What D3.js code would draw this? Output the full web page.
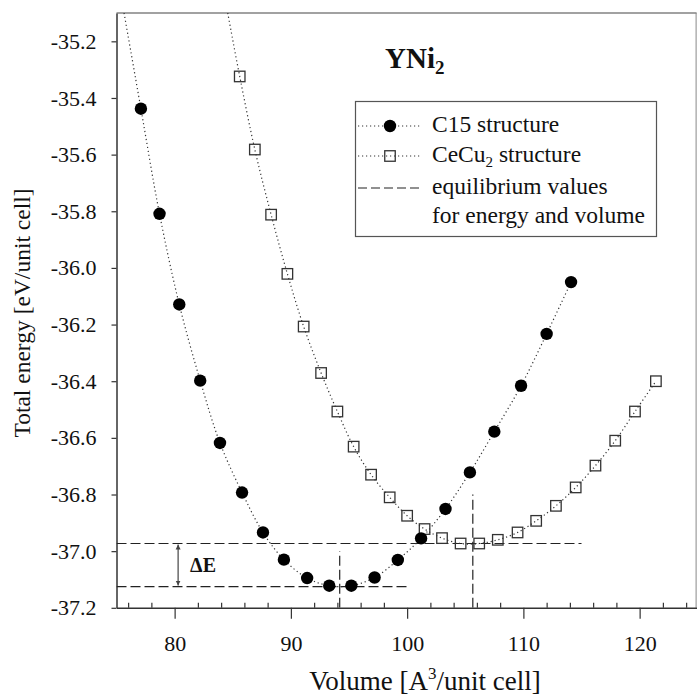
<!DOCTYPE html>
<html>
<head>
<meta charset="utf-8">
<script src="https://cdn.jsdelivr.net/npm/d3@7"></script>
<style>
  body { margin: 0; background: #fff; }
  svg { display: block; }
</style>
</head>
<body>
<div id="chart"></div>
<script>
// C15 structure (filled circles)
const volC15 = [77.1, 78.7, 80.4, 82.2, 83.9, 85.8, 87.6, 89.4, 91.4, 93.3,
                95.2, 97.2, 99.2, 101.2, 103.3, 105.4, 107.5, 109.8, 112.0, 114.1];
const eC15 = [-35.438, -35.809, -36.129, -36.398, -36.618, -36.793, -36.934, -37.030, -37.095, -37.122,
              -37.122, -37.093, -37.031, -36.955, -36.851, -36.722, -36.578, -36.416, -36.233, -36.050];

// CeCu2 structure (open squares)
const volCe = [85.6, 86.9, 88.3, 89.7, 91.1, 92.6, 94.0, 95.4, 96.9, 98.5, 100.0, 101.5,
               103.0, 104.6, 106.2, 107.8, 109.5, 111.1, 112.8, 114.5, 116.2, 117.9, 119.6, 121.4];
const eCe = [-35.324, -35.582, -35.812, -36.021, -36.207, -36.371, -36.507, -36.631, -36.730, -36.810, -36.875, -36.922,
             -36.954, -36.973, -36.973, -36.960, -36.934, -36.893, -36.840, -36.775, -36.698, -36.610, -36.507, -36.400];

// where the fitted dotted curves leave the top of the frame
const fitStartC15 = [75.65, -35.1];
const fitStartCe = [84.57, -35.1];

// equilibrium values: [V0, E0, end of horizontal line, top of vertical line]
const eqC15 = [94.2, -37.125, 100, -37.0];
const eqCe = [105.65, -36.973, 115, -36.8];
const arrowV = 80.3;

const xTicks = [80, 90, 100, 110, 120];
const xMinor = [76, 78, 82, 84, 86, 88, 92, 94, 96, 98, 102, 104, 106, 108, 112, 114, 116, 118, 122, 124];
const yTicks = [-35.2, -35.4, -35.6, -35.8, -36.0, -36.2, -36.4, -36.6, -36.8, -37.0, -37.2];

const FONT = '"Liberation Serif", "Times New Roman", Times, "DejaVu Serif", serif';
const W = 697, H = 700;
const svg = d3.select("#chart").append("svg").attr("width", W).attr("height", H)
  .attr("font-family", FONT);

const x = d3.scaleLinear().domain([75, 124.9]).range([116.5, 696.6]);
const y = d3.scaleLinear().domain([-37.2, -35.1]).range([607.8, 13]);

svg.append("defs").append("clipPath").attr("id", "clip")
  .append("rect")
  .attr("x", x(75)).attr("y", y(-35.1))
  .attr("width", x(124.9) - x(75)).attr("height", y(-37.2) - y(-35.1));

svg.select("defs").append("marker")
  .attr("id", "ah").attr("viewBox", "0 0 10 10")
  .attr("refX", 10).attr("refY", 5)
  .attr("markerWidth", 5).attr("markerHeight", 9)
  .attr("markerUnits", "userSpaceOnUse")
  .attr("orient", "auto-start-reverse")
  .append("path").attr("d", "M0,0 L10,5 L0,10 Z").attr("fill", "#444");

// frame (top and right)
svg.append("line").attr("x1", x(75)).attr("x2", x(124.9)).attr("y1", y(-35.1)).attr("y2", y(-35.1))
  .attr("stroke", "#444").attr("stroke-width", 1.2);
svg.append("line").attr("x1", x(124.9) - 0.5).attr("x2", x(124.9) - 0.5).attr("y1", y(-35.1)).attr("y2", y(-37.2))
  .attr("stroke", "#888").attr("stroke-width", 1);

// axes
svg.append("g").attr("transform", `translate(0,${y(-37.2)})`)
  .call(d3.axisBottom(x).tickValues(xTicks).tickSize(11).tickSizeOuter(0).tickPadding(17).tickFormat(d => d));
svg.append("g").attr("transform", `translate(0,${y(-37.2)})`)
  .call(d3.axisBottom(x).tickValues(xMinor).tickSize(-5).tickSizeOuter(0).tickFormat(""))
  .select(".domain").remove();
svg.append("g").attr("transform", `translate(${x(75)},0)`)
  .call(d3.axisLeft(y).tickValues(yTicks).tickSize(5).tickSizeOuter(0).tickPadding(15).tickFormat(d => d.toFixed(1)));

svg.selectAll("g").attr("font-family", FONT);
svg.selectAll(".tick text").attr("font-size", 22).attr("fill", "#111");
svg.selectAll(".domain").attr("stroke", "#333").attr("stroke-width", 1.5);
svg.selectAll(".tick line").attr("stroke", "#333").attr("stroke-width", 1.2);

// axis titles
svg.append("text").attr("x", 425).attr("y", 690).attr("text-anchor", "middle")
  .attr("font-size", 27).attr("fill", "#111")
  .html('Volume [A<tspan dy="-11" font-size="17">3</tspan><tspan dy="11">/unit cell]</tspan>');
svg.append("text").attr("transform", "translate(30,313) rotate(-90)").attr("text-anchor", "middle")
  .attr("font-size", 23.5).attr("fill", "#111").text("Total energy [eV/unit cell]");

const plot = svg.append("g").attr("clip-path", "url(#clip)");

// equilibrium dashed lines
const dash = "10,4";
[eqC15, eqCe].forEach(eq => {
  plot.append("line").attr("x1", x(75)).attr("x2", x(eq[2])).attr("y1", y(eq[1])).attr("y2", y(eq[1]))
    .attr("stroke", "#222").attr("stroke-width", 1.2).attr("stroke-dasharray", dash);
  plot.append("line").attr("x1", x(eq[0])).attr("x2", x(eq[0])).attr("y1", y(-37.2)).attr("y2", y(eq[3]))
    .attr("stroke", "#222").attr("stroke-width", 1.2).attr("stroke-dasharray", dash);
});

// delta E arrow
svg.append("line").attr("x1", x(arrowV)).attr("x2", x(arrowV))
  .attr("y1", y(eqCe[1]) + 1).attr("y2", y(eqC15[1]) - 1)
  .attr("stroke", "#444").attr("stroke-width", 1.2)
  .attr("marker-start", "url(#ah)").attr("marker-end", "url(#ah)");
svg.append("text").attr("x", x(arrowV) + 12).attr("y", (y(eqCe[1]) + y(eqC15[1])) / 2 + 7)
  .attr("font-size", 20).attr("font-weight", "bold").attr("fill", "#111").text("ΔE");

// dotted fitted curves
const line = d3.line().x(d => x(d[0])).y(d => y(d[1])).curve(d3.curveCatmullRom);
const c15Pts = [fitStartC15].concat(volC15.map((v, i) => [v, eC15[i]]));
const cePts = [fitStartCe].concat(volCe.map((v, i) => [v, eCe[i]]));
[c15Pts, cePts].forEach(pts => {
  plot.append("path").datum(pts).attr("d", line)
    .attr("fill", "none").attr("stroke", "#333").attr("stroke-width", 1.2).attr("stroke-dasharray", "1.2,2.8");
});

// markers
const sq = 10.5;
plot.selectAll("rect.ce").data(volCe).join("rect").attr("class", "ce")
  .attr("x", d => x(d) - sq / 2).attr("y", (d, i) => y(eCe[i]) - sq / 2)
  .attr("width", sq).attr("height", sq)
  .attr("fill", "none").attr("stroke", "#333").attr("stroke-width", 1.3);
plot.selectAll("circle.c15").data(volC15).join("circle").attr("class", "c15")
  .attr("cx", d => x(d)).attr("cy", (d, i) => y(eC15[i])).attr("r", 6.2)
  .attr("fill", "#000");

// title
svg.append("text").attr("x", 385).attr("y", 68)
  .attr("font-size", 29).attr("font-weight", "bold").attr("fill", "#111")
  .html('YNi<tspan dy="6" font-size="19">2</tspan>');

// legend
const lg = svg.append("g");
lg.append("rect").attr("x", 355.5).attr("y", 101.5).attr("width", 301).attr("height", 135)
  .attr("fill", "#fff").attr("stroke", "#555").attr("stroke-width", 1.2);
lg.append("line").attr("x1", 358).attr("x2", 420).attr("y1", 126).attr("y2", 126)
  .attr("stroke", "#333").attr("stroke-width", 1.1).attr("stroke-dasharray", "1.2,2.8");
lg.append("circle").attr("cx", 390).attr("cy", 126).attr("r", 6.2).attr("fill", "#000");
lg.append("line").attr("x1", 358).attr("x2", 420).attr("y1", 156).attr("y2", 156)
  .attr("stroke", "#333").attr("stroke-width", 1.1).attr("stroke-dasharray", "1.2,2.8");
lg.append("rect").attr("x", 390 - sq / 2).attr("y", 156 - sq / 2).attr("width", sq).attr("height", sq)
  .attr("fill", "none").attr("stroke", "#333").attr("stroke-width", 1.3);
lg.append("line").attr("x1", 358).attr("x2", 420).attr("y1", 188).attr("y2", 188)
  .attr("stroke", "#222").attr("stroke-width", 1.2).attr("stroke-dasharray", "9,4");
const lt = (yy, html) => lg.append("text").attr("x", 432).attr("y", yy)
  .attr("font-size", 23.5).attr("fill", "#111").html(html);
lt(132, "C15 structure");
lt(162, 'CeCu<tspan dy="5" font-size="15">2</tspan><tspan dy="-5"> structure</tspan>');
lt(194, "equilibrium values");
lt(223, "for energy and volume");
</script>
</body>
</html>
